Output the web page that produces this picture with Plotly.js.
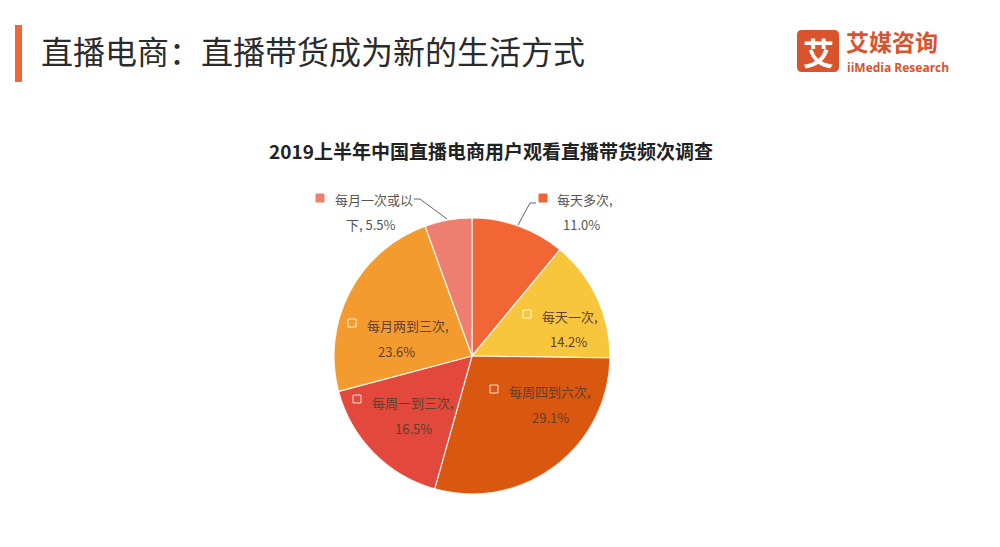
<!DOCTYPE html>
<html><head><meta charset="utf-8">
<script src="https://cdn.plot.ly/plotly-3.0.1.min.js"></script>
<style>html,body{margin:0;padding:0;background:#fff}#c{width:1000px;height:547px}</style>
</head><body><div id="c"></div>
<script>
const categories = ["每天多次", "每天一次", "每周四到六次", "每周一到三次", "每月两到三次", "每月一次或以下"];
const shares = [11.0, 14.2, 29.1, 16.5, 23.6, 5.5];
const sliceColors = ["#F26535", "#F8C63C", "#D9570F", "#E2483B", "#F39B2F", "#EE7F70"];
const labelLines = [["每天多次,", "11.0%"], ["每天一次,", "14.2%"], ["每周四到六次,", "29.1%"], ["每周一到三次,", "16.5%"], ["每月两到三次,", "23.6%"], ["每月一次或以", "下, 5.5%"]];

const W = 1000, H = 547;
const px = x => x / W, py = y => 1 - y / H;
const cx = 472, cy = 356, r = 138;

const labelPos = [
  {sq:[543,198], l1:[555,199], l2:[581,225], inside:false},
  {sq:[527,314], l1:[540,316], l2:[568,341], inside:true},
  {sq:[494,389], l1:[507,391], l2:[550,417], inside:true},
  {sq:[357,399], l1:[370,402], l2:[413,428], inside:true},
  {sq:[352,323], l1:[365,325], l2:[396,351], inside:true},
  {sq:[320,198], l1:[333,199], l2:[371,225], inside:false}
];

const annotations = [];
const shapes = [];
const font = "Noto Sans CJK SC, Noto Sans, sans-serif";

categories.forEach((c, i) => {
  const p = labelPos[i];
  const col = p.inside ? "#613f2c" : "#555555";
  annotations.push({xref:"paper", yref:"paper", x:px(p.l1[0]), y:py(p.l1[1]), xanchor:"left", yanchor:"middle",
    text:labelLines[i][0], showarrow:false, font:{family:font, size:13, color:col}});
  annotations.push({xref:"paper", yref:"paper", x:px(p.l2[0]), y:py(p.l2[1]), xanchor:"center", yanchor:"middle",
    text:labelLines[i][1], showarrow:false, font:{family:font, size:13, color:col}});
  shapes.push({type:"rect", xref:"paper", yref:"paper", x0:px(p.sq[0]-4), x1:px(p.sq[0]+4), y0:py(p.sq[1]+4), y1:py(p.sq[1]-4),
    fillcolor:sliceColors[i], line:{color:p.inside ? "rgba(255,255,255,0.8)" : sliceColors[i], width:1}});
});

// leader lines
shapes.push({type:"path", xref:"paper", yref:"paper",
  path:`M ${px(414)} ${py(199)} L ${px(420)} ${py(199)} L ${px(447)} ${py(219)}`, line:{color:"#666", width:1}});
shapes.push({type:"path", xref:"paper", yref:"paper",
  path:`M ${px(536)} ${py(203)} L ${px(530)} ${py(203)} L ${px(518)} ${py(225)}`, line:{color:"#666", width:1}});

// header bar and logo
shapes.push({type:"rect", xref:"paper", yref:"paper", x0:px(15), x1:px(22), y0:py(82), y1:py(25), fillcolor:"#F0643A", line:{width:0}});
shapes.push({type:"path", xref:"paper", yref:"paper", fillcolor:"#D9532C", line:{width:0},
  path:`M ${px(802)} ${py(30)} L ${px(834)} ${py(30)} Q ${px(839)} ${py(30)} ${px(839)} ${py(35)} L ${px(839)} ${py(67)} Q ${px(839)} ${py(72)} ${px(834)} ${py(72)} L ${px(802)} ${py(72)} Q ${px(797)} ${py(72)} ${px(797)} ${py(67)} L ${px(797)} ${py(35)} Q ${px(797)} ${py(30)} ${px(802)} ${py(30)} Z`});

annotations.push({xref:"paper", yref:"paper", x:px(39), y:py(50), xanchor:"left", yanchor:"middle", showarrow:false,
  text:"直播电商：直播带货成为新的生活方式", font:{family:font, size:32, color:"#2b2b2b"}});
annotations.push({xref:"paper", yref:"paper", x:px(818), y:py(51), xanchor:"center", yanchor:"middle", showarrow:false,
  text:"<b>艾</b>", font:{family:font, size:31, color:"#ffffff"}});
annotations.push({xref:"paper", yref:"paper", x:px(845), y:py(41), xanchor:"left", yanchor:"middle", showarrow:false, borderpad:0,
  text:"<b>艾媒咨询</b>", font:{family:font, size:23, color:"#D9532C"}});
annotations.push({xref:"paper", yref:"paper", x:px(846), y:py(67), xanchor:"left", yanchor:"middle", showarrow:false, borderpad:0,
  text:"<b>iiMedia Research</b>", font:{family:"Open Sans, sans-serif", size:12, color:"#D9532C"}});

const data = [{
  type:"pie", labels:categories, values:shares, sort:false, direction:"clockwise", rotation:0,
  marker:{colors:sliceColors, line:{color:"rgba(255,255,255,0.85)", width:1.2}},
  textinfo:"none", hoverinfo:"label+percent",
  domain:{x:[px(cx - r), px(cx + r)], y:[py(cy + r), py(cy - r)]},
  showlegend:false
}];

const layout = {
  width:W, height:H, margin:{l:0, r:0, t:0, b:0},
  paper_bgcolor:"#ffffff", plot_bgcolor:"#ffffff",
  title:{text:"<b>2019上半年中国直播电商用户观看直播带货频次调查</b>", x:0.491, xanchor:"center", y:py(152), yanchor:"middle",
    font:{family:font, size:19, color:"#222"}},
  annotations:annotations, shapes:shapes, showlegend:false
};
Plotly.newPlot("c", data, layout, {displayModeBar:false, staticPlot:true});
</script></body></html>
